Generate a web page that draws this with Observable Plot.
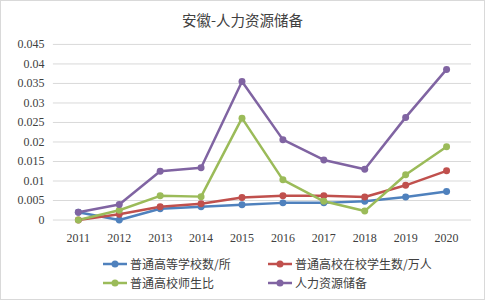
<!DOCTYPE html>
<html><head><meta charset="utf-8">
<script src="https://cdn.jsdelivr.net/npm/d3@7"></script>
<script src="https://cdn.jsdelivr.net/npm/@observablehq/plot@0.6"></script>
<style>
body{margin:0;background:#fff;}
#wrap{position:relative;width:483px;height:298px;border:1px solid #d9d9d9;background:#fff;overflow:hidden;}
#title{position:absolute;left:0;top:8px;width:483px;text-align:center;font-size:14.5px;color:#404040;font-family:"Noto Sans CJK SC",sans-serif;}
#chart{position:absolute;left:-1px;top:-1px;}
#chart svg text{font-family:"Liberation Serif","DejaVu Serif",serif;}
.leg{position:absolute;font-size:12px;color:#404040;font-family:"Noto Sans CJK SC",sans-serif;display:flex;align-items:center;white-space:nowrap;}
.leg svg{margin-right:3px;}
</style></head><body>
<div id="wrap"><div id="title">安徽-人力资源储备</div><div id="chart"></div></div>
<script>
const years = [2011,2012,2013,2014,2015,2016,2017,2018,2019,2020];
const seriesNames = ["普通高等学校数/所","普通高校在校学生数/万人","普通高校师生比","人力资源储备"];
const colors = ["#4F81BD","#C0504D","#9BBB59","#8064A2"];
const schools   = [0.0020,0.0000,0.0029,0.0034,0.0039,0.0044,0.0044,0.0048,0.0059,0.0073];
const students  = [0.0000,0.0015,0.0034,0.0042,0.0058,0.0062,0.0062,0.0059,0.0089,0.0126];
const ratio     = [0.0000,0.0025,0.0062,0.0060,0.0261,0.0103,0.0048,0.0023,0.0116,0.0188];
const reserve   = [0.0020,0.0040,0.0125,0.0134,0.0355,0.0206,0.0154,0.0130,0.0263,0.0386];
const yTicks = [0,0.005,0.01,0.015,0.02,0.025,0.03,0.035,0.04,0.045];

const allSeries = [schools, students, ratio, reserve];
const data = [];
allSeries.forEach((vals, si) => vals.forEach((v, i) => data.push({year: String(years[i]), value: v, series: seriesNames[si]})));

const plot = Plot.plot({
  width: 485, height: 250,
  marginTop: 44, marginBottom: 30, marginLeft: 53, marginRight: 13,
  style: {fontSize: "12px", color: "#404040", background: "transparent"},
  x: {type: "point", domain: years.map(String), padding: 0.5, label: null, tickSize: 0, tickPadding: 13},
  y: {domain: [0, 0.045], ticks: yTicks, tickFormat: d => String(+d.toFixed(3)), label: null, tickSize: 0, tickPadding: 9},
  color: {domain: seriesNames, range: colors},
  marks: [
    Plot.ruleY(yTicks, {stroke: "#d9d9d9", strokeWidth: 1}),
    Plot.line(data, {x: "year", y: "value", z: "series", stroke: "series", strokeWidth: 2.5}),
    Plot.dot(data, {x: "year", y: "value", fill: "series", r: 3.5})
  ]
});
document.getElementById("chart").appendChild(plot);

const legPos = [[102,254],[267,254],[102,273],[267,273]];
seriesNames.forEach((n, i) => {
  const d = document.createElement("div");
  d.className = "leg";
  d.style.left = legPos[i][0] + "px";
  d.style.top = legPos[i][1] + "px";
  d.innerHTML = `<svg width="24" height="16"><line x1="0" y1="8" x2="24" y2="8" stroke="${colors[i]}" stroke-width="2.5"/><circle cx="12" cy="8" r="3.5" fill="${colors[i]}"/></svg><span>${n}</span>`;
  document.getElementById("wrap").appendChild(d);
});
</script>
</body></html>
